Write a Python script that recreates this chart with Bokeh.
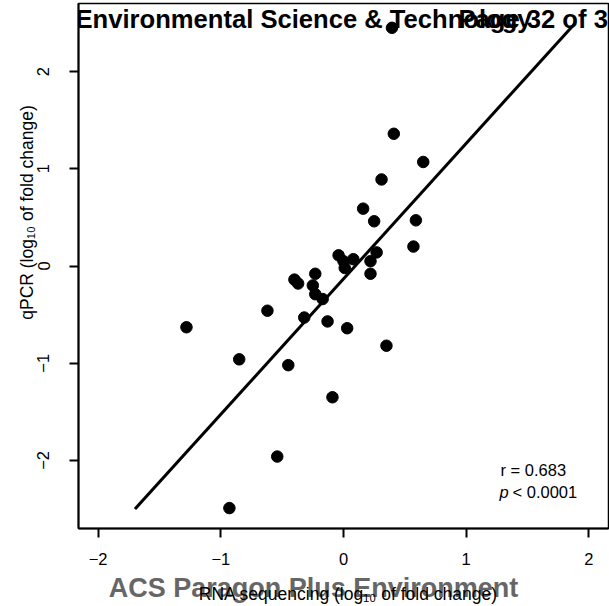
import math
from bokeh.plotting import figure
from bokeh.models import Label, Range1d, FixedTicker, LinearAxis
from bokeh.embed import file_html
from bokeh.resources import INLINE

# ---- data ----
rna_seq = [0.395, 0.41, 0.65, 0.31, 0.16, 0.25, 0.59, 0.57, 0.27, 0.22, 0.22,
           -0.04, 0.08, 0.01, 0.00, -0.23, -0.40, -0.37, -0.25, -0.23, -0.17,
           -1.28, -0.62, -0.85, -0.45, -0.32, -0.13, 0.03, 0.35, -0.09, -0.54, -0.93]
qpcr = [2.45, 1.36, 1.07, 0.89, 0.59, 0.46, 0.47, 0.20, 0.14, 0.05, -0.08,
        0.11, 0.07, -0.02, 0.05, -0.08, -0.14, -0.18, -0.20, -0.29, -0.34,
        -0.63, -0.46, -0.96, -1.02, -0.53, -0.57, -0.64, -0.82, -1.35, -1.96, -2.49]
fit_x = [-1.70, 1.89]
fit_y = [-2.5, 2.5]
tick_values = [-2, -1, 0, 1, 2]
tick_labels = ["\u22122", "\u22121", "0", "1", "2"]
x_title = "RNA sequencing (log\u2081\u2080 of fold change)"
y_title = "qPCR (log\u2081\u2080 of fold change)"
stat_r = "r = 0.683"
stat_p = "< 0.0001"
journal = "Environmental Science & Technology"
page = "Page 32 of 33"
footer = "ACS Paragon Plus Environment"

# ---- layout ----
W, H = 609, 606
FL, FR, FT, FB = 78, 1, 3, 75
FW, FH = W - FL - FR, H - FT - FB
X0, X1 = -2.16, 2.16
Y0, Y1 = -2.7, 2.7
NB = "\u00a0"

def to_x(px):
    return X0 + (px - FL) * (X1 - X0) / FW

def to_y(py):
    return Y1 - (py - FT) * (Y1 - Y0) / FH

FONT = "Liberation Sans"

p = figure(width=W, height=H, output_backend="svg", toolbar_location=None,
           x_range=Range1d(X0, X1), y_range=Range1d(Y0, Y1),
           min_border_left=FL, min_border_right=FR, min_border_top=FT,
           min_border_bottom=FB, title=None)
p.grid.visible = False
p.background_fill_color = "white"
p.border_fill_color = "white"
p.outline_line_color = "black"
p.outline_line_width = 1.5

p.line(fit_x, fit_y, line_color="black", line_width=3)
p.scatter(rna_seq, qpcr, size=11.5, fill_color="black", line_color="black")

overrides = {v: t for v, t in zip(tick_values, tick_labels)}
for ax in (p.xaxis[0], p.yaxis[0]):
    ax.ticker = FixedTicker(ticks=tick_values)
    ax.major_label_overrides = overrides
    ax.major_tick_out = 9
    ax.major_tick_in = 0
    ax.minor_tick_out = 0
    ax.minor_tick_in = 0
    ax.axis_line_width = 2
    ax.major_tick_line_width = 2
    ax.axis_line_color = "black"
    ax.major_tick_line_color = "black"
    ax.major_label_text_font = FONT
    ax.major_label_text_font_size = "16.5px"
    ax.major_label_text_color = "black"
    ax.axis_label_text_font = FONT

xa = p.xaxis[0]
xa.major_label_standoff = 15
xa.axis_label = footer + NB * 8
xa.axis_label_text_font_size = "27px"
xa.axis_label_text_font_style = "bold"
xa.axis_label_text_color = "#666666"
xa.axis_label_standoff = 5

ya = p.yaxis[0]
ya.major_label_standoff = 20
ya.major_label_orientation = "parallel"
ya.axis_label = NB * 22 + y_title
ya.axis_label_text_font_size = "17.5px"
ya.axis_label_text_font_style = "normal"
ya.axis_label_text_color = "black"
ya.axis_label_standoff = -2

xa2 = LinearAxis(ticker=FixedTicker(ticks=[]), axis_line_color=None,
                 major_tick_out=0, major_tick_in=0, minor_tick_out=0, minor_tick_in=0,
                 major_label_standoff=0, axis_label=NB * 2 + x_title,
                 axis_label_text_font=FONT, axis_label_text_font_size="17.5px",
                 axis_label_text_font_style="normal", axis_label_text_color="black",
                 axis_label_standoff=-22)
p.add_layout(xa2, "below")

def add_label(px, py, text, size, bold=False, italic=False, color="black", align="left"):
    style = "normal"
    if bold:
        style = "bold"
    elif italic:
        style = "italic"
    p.add_layout(Label(x=to_x(px), y=to_y(py), text=text, text_font=FONT,
                       text_font_size=size, text_font_style=style,
                       text_color=color, text_align=align,
                       text_baseline="alphabetic"))

# statistics
add_label(500, 472, stat_r, "16.5px")
add_label(499, 494, "p", "16.5px", italic=True)
add_label(512, 494, stat_p, "16.5px")

# page overlay texts
add_label(75, 19, journal, "25.6px", bold=True)
add_label(458, 19, page, "25.6px", bold=True)

open("out.html", "w").write(file_html(p, INLINE))
